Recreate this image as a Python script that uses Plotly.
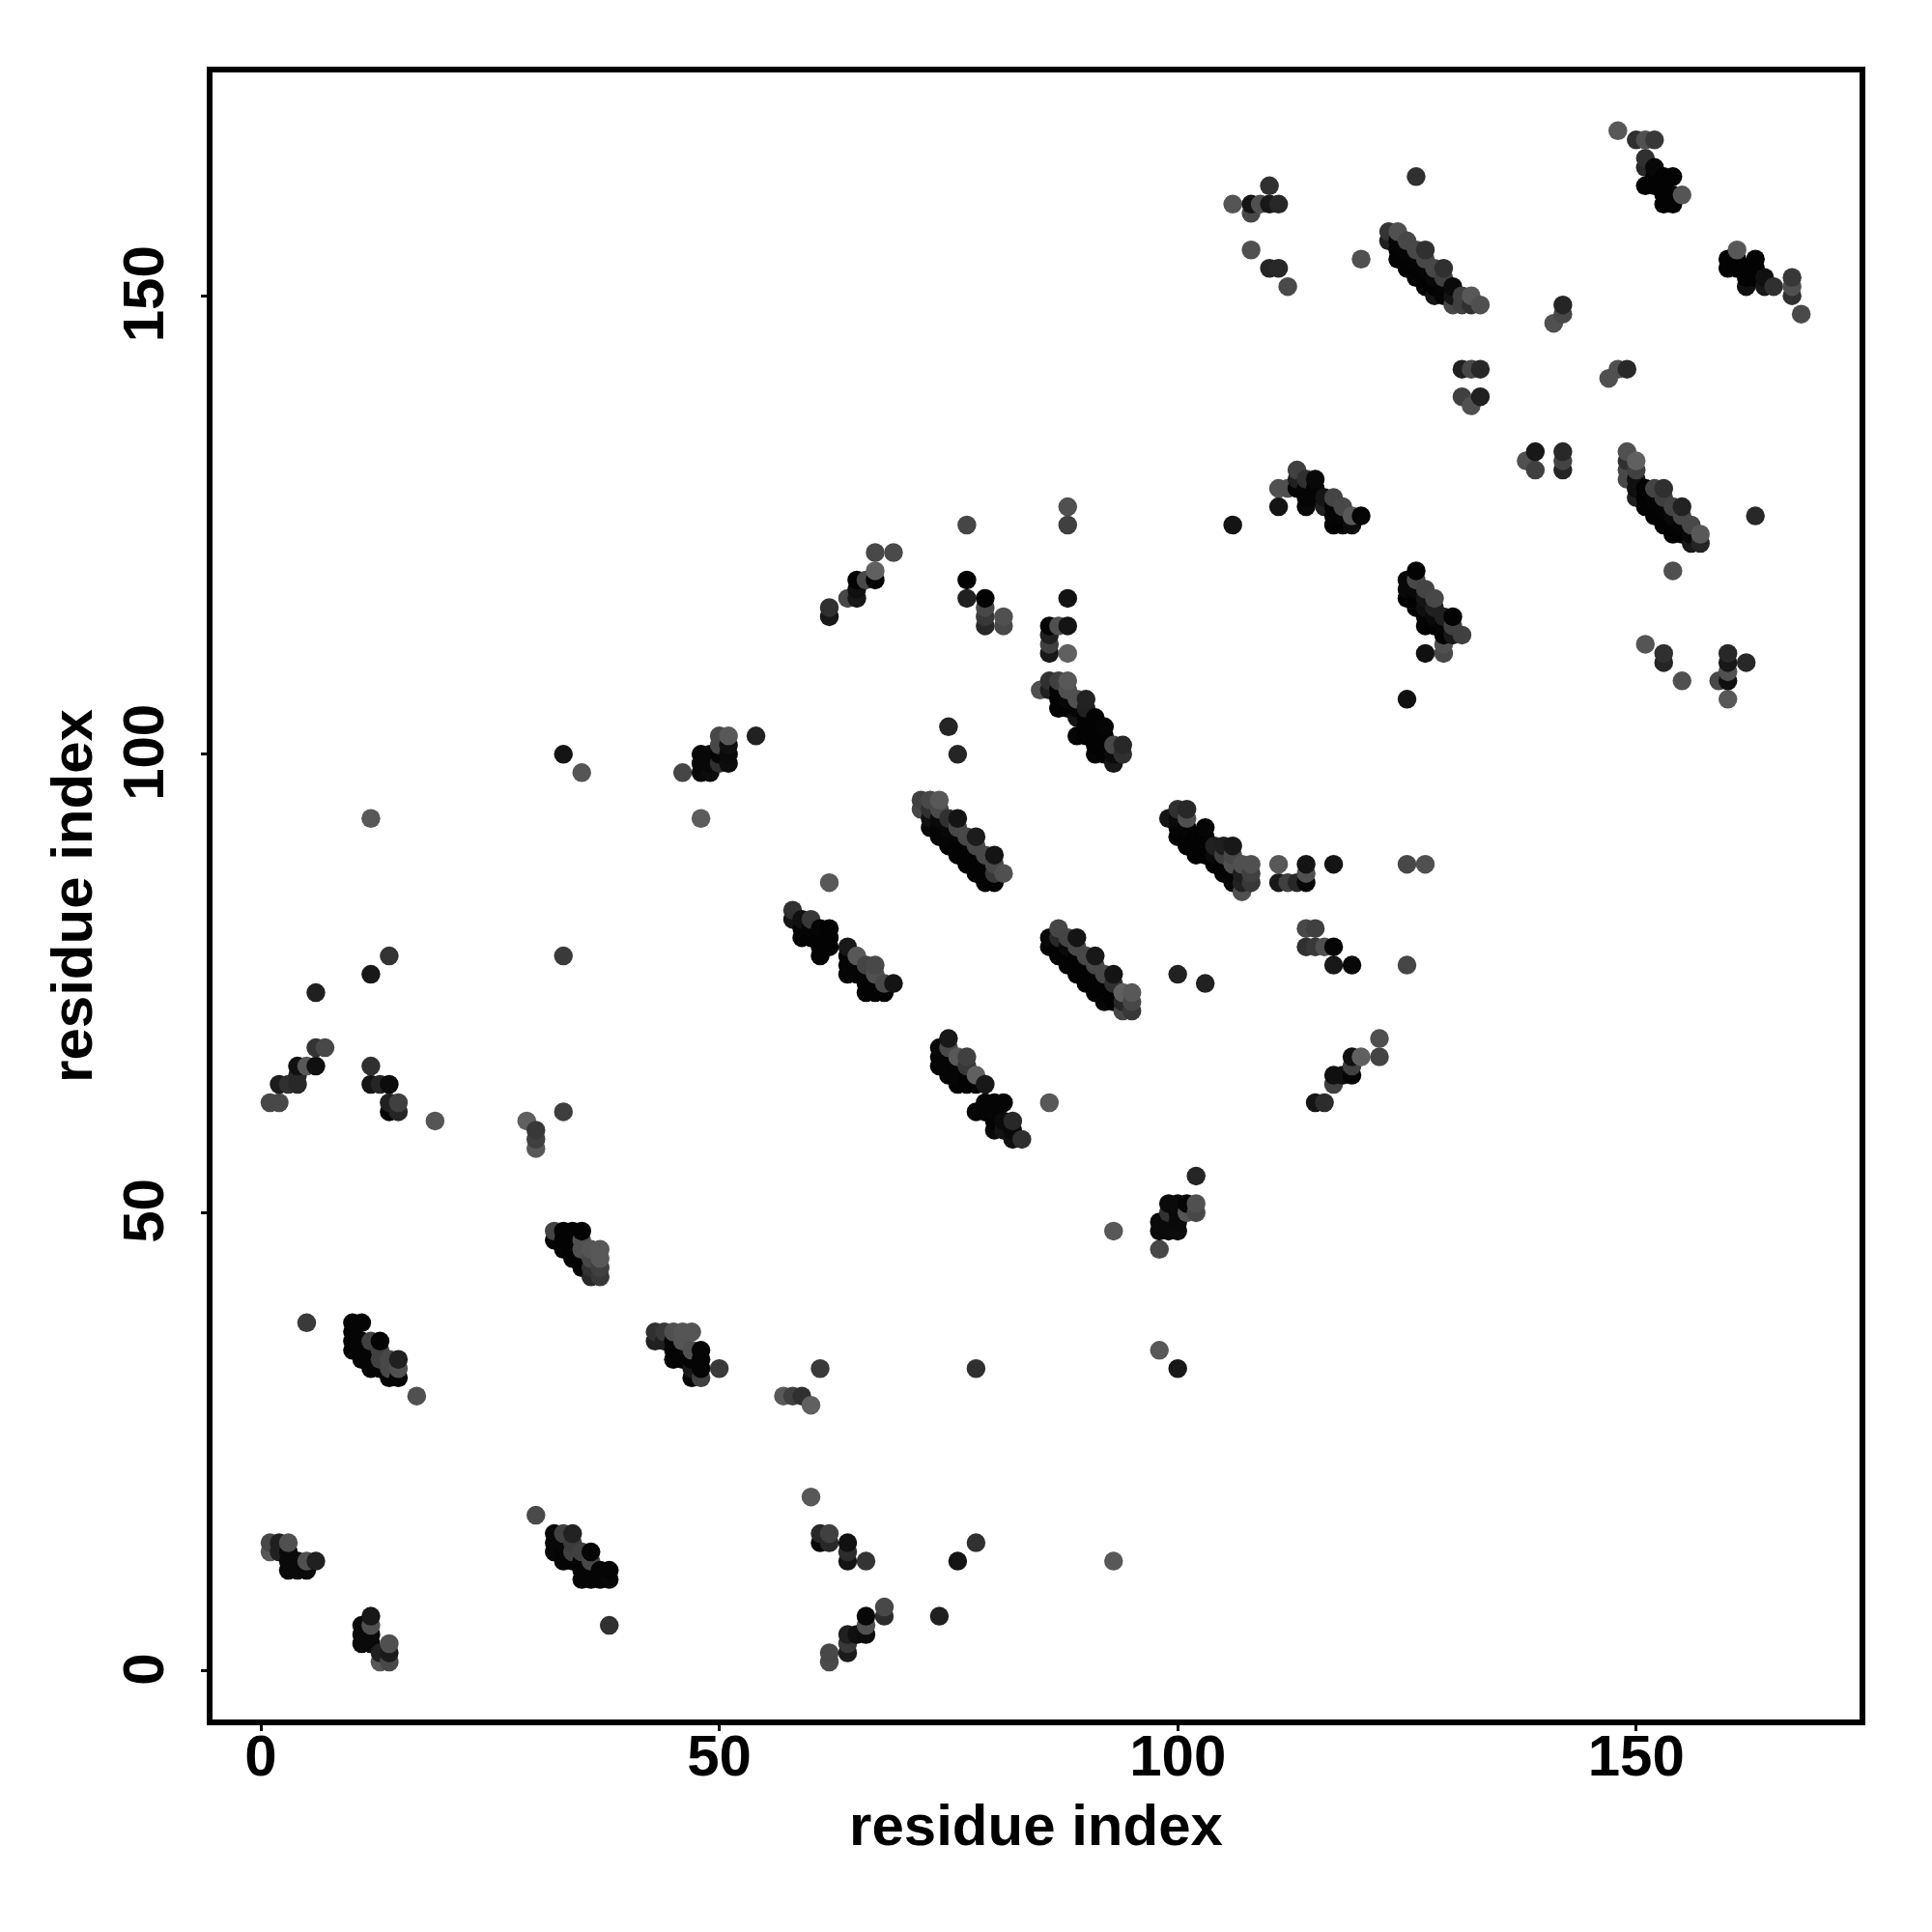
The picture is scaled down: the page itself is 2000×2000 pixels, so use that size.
import plotly.graph_objects as go

AXIS_TITLE = "residue index"
TICKS = [0, 50, 100, 150]

# isolated contacts
iso_x = [5,17,30,38,50,61,78,98,100,60,76,78,93,74,12,48,35,46,14,12,6,33,19,33,33,54,62,86,100,103,125,93,98,102,77,88,88,106,75,76,126,120,168,163,154,155,151,125,148]
iso_y = [38,30,17,5,33,33,33,35,33,19,12,14,12,6,93,93,98,98,78,76,74,78,60,61,100,102,86,62,76,75,77,48,46,54,125,127,125,125,103,100,163,154,148,126,120,108,112,106,168]
iso_g = [58,80,74,48,58,58,48,88,24,88,20,48,88,32,88,92,85,70,52,24,32,58,85,62,20,34,88,88,34,34,70,88,72,37,70,80,64,20,37,37,48,80,74,40,80,80,85,16,88]

a_x = [10,11,10,10,11,12,13,10,11,12,13,11,12,13,14,15,12,13,14,15,14,15]
a_y = [38,38,37,36,36,36,36,35,35,35,35,34,34,34,34,34,33,33,33,33,32,32]
a_g = [5,5,5,5,5,64,3,5,5,5,64,5,5,64,72,32,5,5,72,80,5,5]

b_x = [43,44,45,46,47,43,44,45,46,45,46,47,48,45,46,47,48,47,48,47,48]
b_y = [37,37,37,37,37,36,36,36,36,35,35,35,35,34,34,34,34,33,33,32,32]
b_g = [48,56,80,85,85,32,32,5,85,5,5,80,5,5,5,5,5,24,5,5,64]

c_x = [1,2,3,1,2,3,3,4,5,6,3,4,5]
c_y = [14,14,14,13,13,13,12,12,12,12,11,11,11]
c_g = [72,32,80,88,32,10,10,10,80,32,10,10,10]

d_x = [12,11,12,11,12,11,12,14,13,14,13,14]
d_y = [6,5,5,4,4,3,3,3,2,2,1,1]
d_g = [24,10,80,10,10,10,10,80,32,26,88,72]

e_x = [32,33,34,32,33,34,32,33,34,35,36,33,34,35,36,35,36,37,38,35,36,37,38]
e_y = [15,15,15,14,14,14,13,13,13,13,13,12,12,12,12,11,11,11,11,10,10,10,10]
e_g = [8,64,34,8,8,60,8,5,64,64,5,5,5,5,72,5,5,5,5,5,5,5,8]

f_x = [32,33,34,35,32,33,34,35,33,34,35,36,37,34,35,36,37,35,36,37,36,37]
f_y = [48,48,48,48,47,47,47,47,46,46,46,46,46,45,45,45,45,44,44,44,43,43]
f_g = [68,3,3,3,5,3,3,80,5,3,80,85,88,3,3,72,88,5,50,64,40,56]

g_x = [57,58,59,60]
g_y = [30,30,30,29]
g_g = [88,64,48,96]

h_x = [61,62,61,62,64,64,64,66]
h_y = [15,15,14,14,14,13,12,12]
h_g = [40,64,8,40,16,44,20,52]

i_x = [68,68,66,66,66,65,64,64,64,62,62]
i_y = [7,6,6,5,4,4,4,3,2,2,1]
i_g = [72,44,8,80,12,16,32,56,26,72,74]

j_x = [6,7,4,5,6,4,2,3,4,1,2]
j_y = [68,68,66,66,66,65,64,64,64,62,62]
j_g = [52,72,16,88,16,40,28,48,40,72,72]

k_x = [12,12,13,14,14,15,14,15]
k_y = [66,64,64,64,62,62,61,61]
k_g = [48,20,37,12,32,64,5,37]

l_x = [29,30,30,30]
l_y = [60,59,58,57]
l_g = [96,56,64,88]

m_x = [50,51,50,51,48,49,50,51,48,49,50,51,48,49]
m_y = [102,102,101,101,100,100,100,100,99,99,99,99,98,98]
m_g = [72,88,72,16,8,8,5,10,8,8,48,12,8,12]

n_x = [58,58,59,60,59,60,61,62,59,60,61,62,61,62,61]
n_y = [83,82,82,82,81,81,81,81,80,80,80,80,79,79,78]
n_g = [48,20,16,56,5,5,5,3,3,3,3,3,3,3,3]

o_x = [64,64,65,64,65,66,67,64,65,66,67,66,67,68,69,66,67,68]
o_y = [79,78,78,77,77,77,77,76,76,76,76,75,75,75,75,74,74,74]
o_g = [24,5,88,5,5,68,72,5,5,5,80,3,3,72,20,3,3,3]

p_x = [75,74,75,74,75,76,77,74,75,76,77,75,76,77,78,76,77,78,79]
p_y = [69,68,68,67,67,67,67,66,66,66,66,65,65,65,65,64,64,64,64]
p_g = [24,8,72,5,5,88,64,5,5,5,56,5,5,3,96,3,3,3,24]

q_x = [79,80,81,78,79,80,80,81,82,80,81,82,82,83]
q_y = [62,62,62,61,61,61,60,60,60,59,59,59,58,58]
q_g = [5,5,5,5,5,5,3,10,40,10,20,10,16,48]

r_x = [72,73,74,72,73,74,73,74,75,76,73,74,75,76,74,75,76,77,78,75,76,77,78,76,77,78,79,80,77,78,79,80,78,79,80,81,79,80]
r_y = [95,95,95,94,94,94,93,93,93,93,92,92,92,92,91,91,91,91,91,90,90,90,90,89,89,89,89,89,88,88,88,88,87,87,87,87,86,86]
r_g = [64,72,88,72,48,74,16,10,48,20,8,5,8,72,5,5,5,72,28,3,3,3,72,3,3,3,72,20,3,3,3,72,3,3,56,80,3,3]

s_x = [87,86,87,88,89,86,87,88,89,87,88,89,90,91,88,89,90,91,89,90,91,92,93,90,91,92,93,91,92,93,94,95,92,93,94,95,94,95]
s_y = [81,80,80,80,80,79,79,79,79,78,78,78,78,78,77,77,77,77,76,76,76,76,76,75,75,75,75,74,74,74,74,74,73,73,73,73,72,72]
s_g = [70,8,40,68,20,3,3,10,72,3,3,3,72,24,3,3,3,72,3,3,3,72,20,3,3,3,48,3,3,3,96,88,8,3,40,72,72,56]

t_x = [114,115,114,115,116,117,117,119]
t_y = [81,81,79,79,79,79,77,77]
t_g = [72,64,48,56,80,5,24,8]

u_x = [111,114,117,114,111,112,113,114,125,127]
u_y = [88,88,88,87,86,86,86,86,88,88]
u_g = [88,20,20,80,24,64,40,8,72,80]

v_x = [122,122,119,120,119,117,118,119,117,115,116]
v_y = [69,67,67,67,66,65,65,65,64,62,62]
v_g = [80,68,16,96,64,16,16,5,64,20,44]

w_x = [99,100,101,102,99,100,101,102,98,99,100,98,99,100]
w_y = [51,51,51,51,50,50,50,50,49,49,49,48,48,48]
w_g = [10,10,5,80,50,8,85,72,10,10,10,10,10,12]

x_x = [67,69,67,65,66,67,65,64,65,62,62]
x_y = [122,122,120,119,119,119,118,117,117,116,115]
x_g = [72,74,96,3,72,5,16,72,24,48,24]

y_x = [77,77,79,79,79,79,81,81]
y_y = [119,117,117,116,115,114,115,114]
y_g = [3,32,3,72,56,40,80,72]

z_x = [88,86,87,88,86,86,86,88]
z_y = [117,114,114,114,113,112,111,111]
z_g = [18,3,80,20,32,64,24,96]

aa_x = [86,87,88,85,86,87,88,87,88,89,90,87,88,89,90,89,90,91,90,91,92,89,90,91,92,91,92,93,94,91,92,93,94,93]
aa_y = [108,108,108,107,107,107,107,106,106,106,106,105,105,105,105,104,104,104,103,103,103,102,102,102,102,101,101,101,101,100,100,100,100,99]
aa_g = [48,64,88,80,32,5,80,3,8,80,34,3,3,5,32,20,3,3,3,3,5,5,3,3,3,3,3,72,40,5,3,10,48,24]

ab_x = [100,101,99,100,101,100,101,103,100,101,102,103,101,102,103,104,105,106,102,103,104,105,106,104,105,106,107,108,105,106,107,108,106,107,108,107]
ab_y = [94,94,93,93,93,92,92,92,91,91,91,91,90,90,90,90,90,90,89,89,89,89,89,88,88,88,88,88,87,87,87,87,86,86,86,85]
ab_g = [48,40,20,10,80,5,5,5,3,3,3,3,3,3,3,32,30,24,3,3,10,64,72,3,3,80,80,80,5,5,30,64,10,34,56,80]

ac_x = [113,113,114,115,111,112,113,114,115,114,115,116,117,111,114,116,117,118,117,118,119,120,117,118,119]
ac_y = [131,130,130,130,129,129,129,129,129,128,128,128,128,127,127,127,127,127,126,126,126,126,125,125,125]
ac_g = [64,32,48,8,80,80,5,5,5,5,5,21,68,20,8,32,5,72,5,5,88,5,3,3,12]

ad_x = [126,125,126,125,126,127,125,126,127,128,126,127,128,127,128,129,130,127,128,129,130,129,130,131,129,127,129]
ad_y = [120,119,119,118,118,118,117,117,117,117,116,116,116,115,115,115,115,114,114,114,114,113,113,113,112,111,111]
ad_g = [3,8,72,8,8,68,3,3,20,72,5,16,32,5,10,32,3,3,3,5,64,3,24,64,80,16,72]

ae_x = [139,138,139,142,142,142]
ae_y = [133,132,131,133,132,131]
ae_g = [24,80,64,40,68,37]

af_x = [149,149,150,149,150,149,150,150,151,152,153,150,151,152,153,151,152,153,154,155,152,153,154,155,153,154,155,156,154,155,156,157,156,157]
af_y = [133,132,132,131,131,130,130,129,129,129,129,128,128,128,128,127,127,127,127,127,126,126,126,126,125,125,125,125,124,124,124,124,123,123]
af_g = [80,48,96,72,64,72,16,16,3,68,48,32,3,5,64,3,3,5,68,34,3,3,10,72,3,3,5,72,3,3,8,88,24,37]

ag_x = [153,153,160,160,162,160,159,160,160]
ag_y = [111,110,111,110,110,109,108,108,106]
ag_g = [48,37,40,24,40,80,72,16,88]

ah_x = [110,106,108,109,110,111,108,108,110,111,112]
ah_y = [162,160,160,160,160,160,159,155,153,153,151]
ah_g = [48,85,20,80,24,40,72,80,37,40,74]

ai_x = [123,124,123,124,125,124,125,126,127,124,125,126,127,125,126,127,128,129,126,127,128,129,127,128,129,130,128,129,130,131,132,130,131,132,133]
ai_y = [157,157,156,156,156,155,155,155,155,154,154,154,154,153,153,153,153,153,152,152,152,152,151,151,151,151,150,150,150,150,150,149,149,149,149]
ai_g = [52,80,32,5,72,3,5,72,48,3,3,5,72,3,3,5,72,48,5,3,8,64,3,3,5,10,20,5,20,64,88,70,64,48,80]

aj_x = [131,132,133,131,133,132,142,142,141,147,148,149]
aj_y = [142,142,142,139,139,138,149,148,147,141,142,142]
aj_g = [32,72,40,64,32,80,37,72,80,80,80,40]

am_x = [150,151,152,151,151,152,152,153,154,151,152,153,153,154,155,153,154]
am_y = [167,167,167,165,164,164,163,163,163,162,162,162,161,161,161,160,160]
am_g = [48,80,56,48,40,8,3,3,3,3,3,3,3,3,85,3,3]

an_x = [161,160,161,163,160,161,162,163,162,163,164,162,164,165,167,167,167]
an_y = [155,154,154,154,153,153,153,153,152,152,152,151,151,151,152,151,150]
an_g = [88,3,3,3,3,3,3,3,3,3,16,16,24,48,56,80,48]

groups = [
    (iso_x, iso_y, iso_g), (a_x, a_y, a_g), (b_x, b_y, b_g), (c_x, c_y, c_g), (d_x, d_y, d_g),
    (e_x, e_y, e_g), (f_x, f_y, f_g), (g_x, g_y, g_g), (h_x, h_y, h_g), (i_x, i_y, i_g),
    (j_x, j_y, j_g), (k_x, k_y, k_g), (l_x, l_y, l_g), (m_x, m_y, m_g), (n_x, n_y, n_g),
    (o_x, o_y, o_g), (p_x, p_y, p_g), (q_x, q_y, q_g), (r_x, r_y, r_g), (s_x, s_y, s_g),
    (t_x, t_y, t_g), (u_x, u_y, u_g), (v_x, v_y, v_g), (w_x, w_y, w_g), (x_x, x_y, x_g),
    (y_x, y_y, y_g), (z_x, z_y, z_g), (aa_x, aa_y, aa_g), (ab_x, ab_y, ab_g), (ac_x, ac_y, ac_g),
    (ad_x, ad_y, ad_g), (ae_x, ae_y, ae_g), (af_x, af_y, af_g), (ag_x, ag_y, ag_g), (ah_x, ah_y, ah_g),
    (ai_x, ai_y, ai_g), (aj_x, aj_y, aj_g), (am_x, am_y, am_g), (an_x, an_y, an_g),
]

contacts = []
for gx, gy, gg in groups:
    contacts.extend(zip(gx, gy, gg, strict=True))
contacts.sort(key=lambda c: (c[0], c[1]))

fig = go.Figure(go.Scatter(
    x=[c[0] for c in contacts],
    y=[c[1] for c in contacts],
    mode="markers",
    marker=dict(size=19.5, color=[f"rgb({c[2]},{c[2]},{c[2]})" for c in contacts], line=dict(width=0)),
    showlegend=False,
))

axis_font = dict(family="Liberation Sans", size=60, color="black", weight="bold")
common = dict(
    tickmode="array", tickvals=TICKS, ticktext=[str(t) for t in TICKS],
    showgrid=False, zeroline=False, showline=True, mirror=True,
    linecolor="black", linewidth=5.5, ticks="outside", ticklen=6, tickwidth=3, tickcolor="black",
    tickfont=dict(family="Liberation Sans", size=60, color="black", weight="bold"),
)
fig.update_xaxes(range=[-5.27, 174.36], ticklabelstandoff=-26,
                 title=dict(text=AXIS_TITLE, font=axis_font, standoff=20), **common)
fig.update_yaxes(range=[-5.27, 174.36], tickangle=-90, ticklabelstandoff=15, ticklabelshift=7,
                 title=dict(text=AXIS_TITLE, font=axis_font, standoff=2), **common)
fig.update_layout(
    width=2000, height=2000, autosize=False,
    margin=dict(l=220, r=75, t=75, b=220, pad=0),
    paper_bgcolor="white", plot_bgcolor="white",
)
fig.write_html("out.html", post_script="document.body.style.margin='0';", config={"displayModeBar": False})
